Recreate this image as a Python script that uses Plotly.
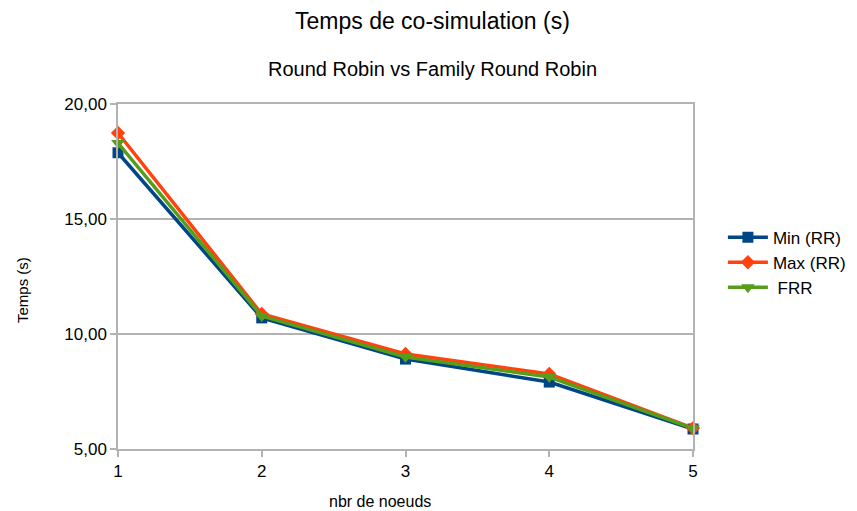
import plotly.graph_objects as go

nodes = [1, 2, 3, 4, 5]
min_rr = [17.88, 10.70, 8.91, 7.91, 5.87]
max_rr = [18.74, 10.87, 9.13, 8.26, 5.91]
frr = [18.30, 10.78, 9.00, 8.13, 5.90]

title_text = "Temps de co-simulation (s)"
subtitle_text = "Round Robin vs Family Round Robin"
x_title = "nbr de noeuds"
y_title = "Temps (s)"
y_ticks = [5, 10, 15, 20]
y_ticklabels = ["5,00", "10,00", "15,00", "20,00"]

FONT = "Liberation Sans, Arial, sans-serif"
GRID = "#b3b3b3"

fig = go.Figure()
series = [
    ("Min (RR)", min_rr, "#004586", "square", 11),
    ("Max (RR)", max_rr, "#ff420e", "diamond", 11),
    (" FRR", frr, "#579d1c", "triangle-down", 12),
]
for name, vals, color, sym, size in series:
    fig.add_trace(go.Scatter(
        x=nodes, y=vals, name=name, mode="lines+markers",
        line=dict(color=color, width=3.5),
        marker=dict(symbol=sym, size=size, color=color),
        cliponaxis=False,
    ))

fig.update_layout(
    width=857, height=511,
    margin=dict(l=118, r=164, t=104, b=62, autoexpand=False),
    paper_bgcolor="white", plot_bgcolor="white",
    font=dict(family=FONT, color="#000000", size=17),
    separators=", ",
    showlegend=True,
    legend=dict(x=1.052, y=0.665, xanchor="left", yanchor="top",
                font=dict(size=17), tracegroupgap=0, itemwidth=40,
                bgcolor="rgba(0,0,0,0)"),
)


def px_to_paper_x(px):
    return (px - 118) / (693 - 118)


def px_to_paper_y(py):
    return (449 - py) / (449 - 104)


fig.add_annotation(text=title_text, x=px_to_paper_x(433), y=px_to_paper_y(21),
                   xref="paper", yref="paper", xanchor="center", yanchor="middle",
                   showarrow=False, font=dict(size=23, family=FONT))
fig.add_annotation(text=subtitle_text, x=px_to_paper_x(432), y=px_to_paper_y(69),
                   xref="paper", yref="paper", xanchor="center", yanchor="middle",
                   showarrow=False, font=dict(size=20, family=FONT))
fig.add_annotation(text=x_title, x=px_to_paper_x(380), y=px_to_paper_y(501),
                   xref="paper", yref="paper", xanchor="center", yanchor="middle",
                   showarrow=False, font=dict(size=16, family=FONT))
fig.add_annotation(text=y_title, x=px_to_paper_x(22), y=px_to_paper_y(290),
                   xref="paper", yref="paper", xanchor="center", yanchor="middle",
                   showarrow=False, textangle=-90, font=dict(size=15, family=FONT))

fig.update_xaxes(
    range=[1, 5], tickvals=nodes, ticktext=[str(n) for n in nodes],
    showgrid=False, showline=True, mirror=True, linecolor=GRID, linewidth=1.5,
    ticks="outside", ticklen=6, tickcolor=GRID, tickwidth=1.5,
    tickfont=dict(size=17), zeroline=False,
)
fig.update_yaxes(
    range=[5, 20], tickvals=y_ticks, ticktext=y_ticklabels,
    showgrid=True, gridcolor=GRID, gridwidth=1.5,
    showline=True, mirror=True, linecolor=GRID, linewidth=1.5,
    ticks="outside", ticklen=6, tickcolor=GRID, tickwidth=1.5,
    tickfont=dict(size=17), zeroline=False,
)

fig.write_html("out.html", config={"displayModeBar": False},
               post_script="document.body.style.margin='0px';")
